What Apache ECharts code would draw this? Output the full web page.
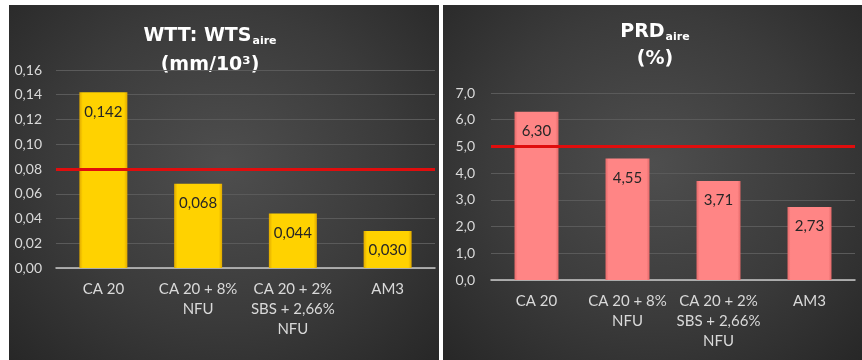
<!DOCTYPE html>
<html>
<head>
<meta charset="utf-8">
<script src="https://cdn.jsdelivr.net/npm/echarts@6/dist/echarts.min.js"></script>
<style>
  html, body { margin: 0; padding: 0; background: #ffffff; width: 862px; height: 360px; overflow: hidden; }
  .panel {
    position: absolute; top: 5px; height: 355px;
    background: radial-gradient(ellipse at 50% 45%, #4e4e4e 0%, #3b3b3b 55%, #272727 100%);
  }
  #wts { left: 9px; width: 430px; }
  #prd { left: 443px; width: 419px; }
</style>
</head>
<body>
<div id="wts" class="panel"></div>
<div id="prd" class="panel"></div>
<script>
// Mixtures compared in both panels
const categories = ['CA 20', 'CA 20 + 8%\nNFU', 'CA 20 + 2%\nSBS + 2,66%\nNFU', 'AM3'];

// Wheel tracking test: WTS in air (mm/10^3 cycles)
const wtsValues = [0.142, 0.068, 0.044, 0.030];
const wtsLimit = 0.08;
const wtsAxis = { min: 0, max: 0.16, interval: 0.02, decimals: 2 };

// Proportional rut depth in air (%)
const prdValues = [6.30, 4.55, 3.71, 2.73];
const prdLimit = 5;
const prdAxis = { min: 0, max: 7, interval: 1, decimals: 1 };

const FONT = 'Lato, "Open Sans", sans-serif';
const TITLE_FONT = '"DejaVu Sans", Lato, sans-serif';
const comma = (v, d) => v.toFixed(d).replace('.', ',');

function barFill(edge, mid) {
  return new echarts.graphic.LinearGradient(0, 0, 1, 0, [
    { offset: 0, color: edge },
    { offset: 0.07, color: mid },
    { offset: 0.93, color: mid },
    { offset: 1, color: edge }
  ]);
}

function build(el, cfg) {
  const chart = echarts.init(el, null, { renderer: 'canvas' });
  chart.setOption({
    backgroundColor: 'transparent',
    animation: false,
    grid: cfg.grid,
    graphic: [
      {
        type: 'text', x: cfg.titleX, y: cfg.title1Y,
        style: {
          text: cfg.title1, align: 'center', verticalAlign: 'middle', fill: '#ffffff',
          rich: {
            b: { fontSize: 19, fontWeight: 'bold', fontFamily: TITLE_FONT, fill: '#ffffff', lineHeight: 20, verticalAlign: 'top' },
            s: { fontSize: 11, fontWeight: 'bold', fontFamily: TITLE_FONT, fill: '#ffffff', lineHeight: 12, padding: [12, 0, 0, 1], verticalAlign: 'bottom' }
          }
        }
      },
      {
        type: 'text', x: cfg.titleX, y: cfg.title2Y,
        style: {
          text: cfg.title2, align: 'center', verticalAlign: 'middle', fill: '#ffffff',
          fontSize: 19, fontWeight: 'bold', fontFamily: TITLE_FONT
        }
      }
    ],
    xAxis: {
      type: 'category',
      data: categories,
      axisLine: { lineStyle: { color: '#c9c9c9', width: 1.5 } },
      axisTick: { show: false },
      axisLabel: { interval: 0, color: '#d9d9d9', fontSize: 15, fontFamily: FONT, lineHeight: 20, margin: 11 }
    },
    yAxis: {
      type: 'value',
      min: cfg.axis.min, max: cfg.axis.max, interval: cfg.axis.interval,
      axisLine: { show: false },
      axisTick: { show: false },
      splitLine: { lineStyle: { color: '#5a5a5a', width: 1 } },
      axisLabel: { color: '#d9d9d9', fontSize: 14, fontFamily: FONT, margin: cfg.yMargin,
        formatter: v => comma(v, cfg.axis.decimals) }
    },
    series: [{
      type: 'bar',
      data: cfg.values,
      barWidth: cfg.barWidth,
      itemStyle: { color: barFill(cfg.edge, cfg.mid) },
      label: {
        show: true, position: 'insideTop', distance: 12,
        color: '#262626', fontSize: 15, fontFamily: FONT,
        formatter: p => comma(p.value, cfg.labelDecimals)
      },
      markLine: {
        symbol: 'none', silent: true,
        label: { show: false },
        lineStyle: { color: '#e00d0d', width: 3, type: 'solid' },
        data: [{ yAxis: cfg.limit }]
      }
    }]
  });
}

build(document.getElementById('wts'), {
  grid: { left: 47, right: 4, top: 65, bottom: 92 },
  axis: wtsAxis, values: wtsValues, limit: wtsLimit, labelDecimals: 3,
  barWidth: 48, yMargin: 14,
  edge: '#e0a900', mid: '#ffd200',
  title1: '{b|WTT: WTS}{s|aire}', title2: '(mm/10³)', titleX: 201, title1Y: 32, title2Y: 60
});

build(document.getElementById('prd'), {
  grid: { left: 48, right: 7, top: 88, bottom: 80 },
  axis: prdAxis, values: prdValues, limit: prdLimit, labelDecimals: 2,
  barWidth: 44, yMargin: 16,
  edge: '#e56a6a', mid: '#ff8585',
  title1: '{b|PRD}{s|aire}', title2: '(%)', titleX: 212, title1Y: 28, title2Y: 54
});
</script>
</body>
</html>
